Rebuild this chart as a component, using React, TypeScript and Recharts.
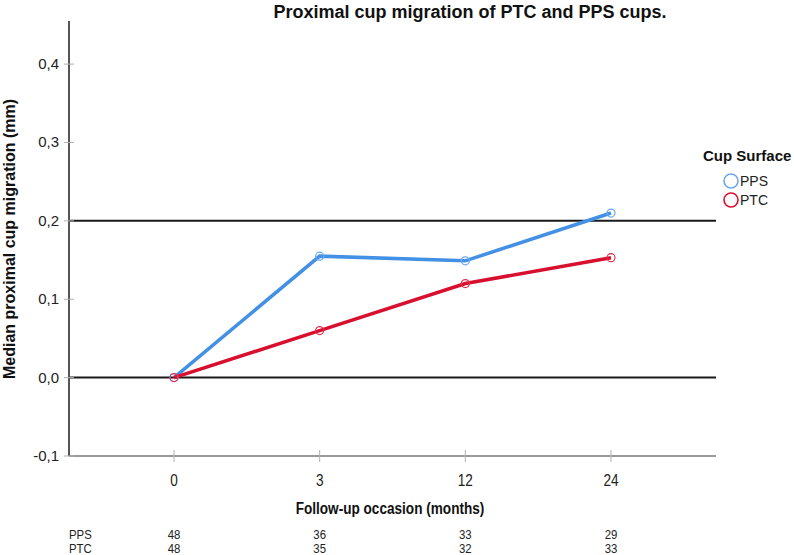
import React from 'react';
import { LineChart, Line, XAxis, YAxis, ReferenceLine } from 'recharts';

const occasions = ['0', '3', '12', '24'];
const ppsMedian = [0, 0.155, 0.149, 0.21];
const ptcMedian = [0, 0.06, 0.12, 0.153];
const ppsCount = [48, 36, 33, 29];
const ptcCount = [48, 35, 32, 33];
const yTicks = [-0.1, 0, 0.1, 0.2, 0.3, 0.4];
const referenceValues = [0, 0.2];

const data = occasions.map((o, i) => ({ occasion: o, PPS: ppsMedian[i], PTC: ptcMedian[i] }));

const BLUE = '#4391e5';
const BLUE_DOT = '#6aa8ee';
const RED = '#d80f2e';
const RED_DOT = '#e0304c';
const SANS = '"Liberation Sans", Arial, sans-serif';

const Narrow = (props: any) => {
  const { x, y, sx = 0.82, anchor = 'start', size, weight = 'normal', fill = '#222', children } = props;
  return (
    <text
      transform={`translate(${x},${y}) scale(${sx},1)`}
      x={0}
      y={0}
      textAnchor={anchor}
      fontFamily={SANS}
      fontSize={size}
      fontWeight={weight}
      fill={fill}
    >
      {children}
    </text>
  );
};

const XTick = (props: any) => {
  const { x, y, payload, index } = props;
  return (
    <g>
      <line x1={x} x2={x} y1={y - 6} y2={y + 6} stroke="#b0b0b0" strokeWidth={1} />
      <Narrow x={x} y={y + 30} anchor="middle" size={16} sx={0.85}>
        {payload.value}
      </Narrow>
      <Narrow x={x} y={y + 82.5} anchor="middle" size={12} sx={0.95}>
        {ppsCount[index]}
      </Narrow>
      <Narrow x={x} y={y + 96.5} anchor="middle" size={12} sx={0.95}>
        {ptcCount[index]}
      </Narrow>
    </g>
  );
};

const YTick = (props: any) => {
  const { x, y, payload } = props;
  return (
    <g>
      <line x1={x - 5} x2={x + 5} y1={y} y2={y} stroke="#b0b0b0" strokeWidth={1} />
      <text x={x - 10} y={y + 5} textAnchor="end" fontFamily={SANS} fontSize={15} fill="#222">
        {Number(payload.value).toFixed(1).replace('.', ',')}
      </text>
    </g>
  );
};

const dotStyle = (color: string) => ({ r: 4, stroke: color, strokeWidth: 1.2, fill: 'none' });

export default function App() {
  return (
    <div style={{ position: 'absolute', left: 0, top: 0, width: 794, height: 555, background: '#fff' }}>
      <LineChart
        width={794}
        height={555}
        data={data}
        margin={{ top: 21, right: 78, left: 9, bottom: 69 }}
      >
        <XAxis
          dataKey="occasion"
          type="category"
          scale="point"
          padding={{ left: 105, right: 105 }}
          axisLine={{ stroke: '#9a9a9a', strokeWidth: 2 }}
          tickLine={false}
          tickSize={0}
          tickMargin={0}
          tick={<XTick />}
          height={30}
          interval={0}
        />
        <YAxis
          type="number"
          domain={[-0.1, 0.455]}
          ticks={yTicks}
          allowDataOverflow
          width={60}
          axisLine={{ stroke: '#555', strokeWidth: 2 }}
          tickLine={false}
          tickSize={0}
          tickMargin={0}
          tick={<YTick />}
          interval={0}
        />
        {referenceValues.map((v) => (
          <ReferenceLine key={v} y={v} stroke="#1a1a1a" strokeWidth={2} />
        ))}
        <Line
          type="linear"
          dataKey="PPS"
          stroke={BLUE}
          strokeWidth={3.5}
          dot={dotStyle(BLUE_DOT)}
          activeDot={false}
          isAnimationActive={false}
        />
        <Line
          type="linear"
          dataKey="PTC"
          stroke={RED}
          strokeWidth={3.5}
          dot={dotStyle(RED_DOT)}
          activeDot={false}
          isAnimationActive={false}
        />
      </LineChart>
      <svg
        width={794}
        height={555}
        style={{ position: 'absolute', left: 0, top: 0, pointerEvents: 'none' }}
      >
        <text x={470} y={18} textAnchor="middle" fontFamily={SANS} fontSize={18} fontWeight="bold" fill="#111">
          Proximal cup migration of PTC and PPS cups.
        </text>
        <text
          transform="translate(15,239) rotate(-90)"
          textAnchor="middle"
          fontFamily={SANS}
          fontSize={16}
          fontWeight="bold"
          fill="#111"
        >
          Median proximal cup migration (mm)
        </text>
        <Narrow x={390} y={514} anchor="middle" size={17} sx={0.8} weight="bold" fill="#111">
          Follow-up occasion (months)
        </Narrow>
        <Narrow x={69} y={538.5} size={12} sx={0.95}>PPS</Narrow>
        <Narrow x={69} y={552.5} size={12} sx={0.95}>PTC</Narrow>
        <text x={703} y={161} fontFamily={SANS} fontSize={15} fontWeight="bold" fill="#111">Cup Surface</text>
        <circle cx={731} cy={181} r={7} fill="none" stroke={BLUE_DOT} strokeWidth={1.6} />
        <text x={740} y={186} fontFamily={SANS} fontSize={14} fill="#222">PPS</text>
        <circle cx={731} cy={200} r={7} fill="none" stroke={RED} strokeWidth={1.6} />
        <text x={740} y={205} fontFamily={SANS} fontSize={14} fill="#222">PTC</text>
      </svg>
    </div>
  );
}
